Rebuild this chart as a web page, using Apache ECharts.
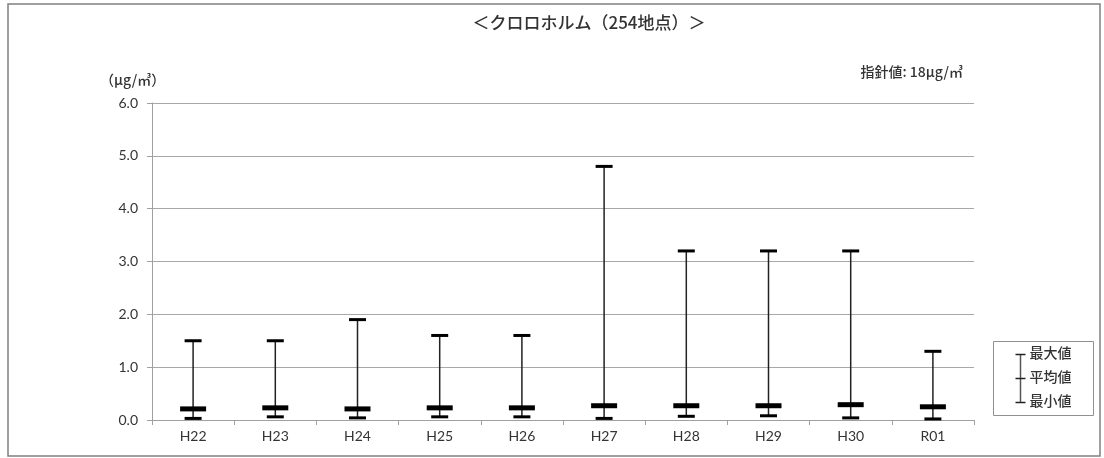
<!DOCTYPE html>
<html>
<head>
<meta charset="utf-8">
<script src="https://cdn.jsdelivr.net/npm/echarts@6/dist/echarts.min.js"></script>
<style>
  html, body { margin: 0; padding: 0; background: #fff; }
  #chart { width: 1104px; height: 458px; }
</style>
</head>
<body>
<div id="chart"></div>
<script>
// 年度
var categories = ['H22', 'H23', 'H24', 'H25', 'H26', 'H27', 'H28', 'H29', 'H30', 'R01'];
// 最大値 / 平均値 / 最小値 (μg/㎥)
var maxVals  = [1.5, 1.5, 1.9, 1.6, 1.6, 4.8, 3.2, 3.2, 3.2, 1.3];
var meanVals = [0.21, 0.23, 0.21, 0.23, 0.23, 0.27, 0.27, 0.27, 0.29, 0.25];
var minVals  = [0.03, 0.06, 0.04, 0.06, 0.06, 0.03, 0.07, 0.08, 0.04, 0.02];
var yTicks = [0, 1, 2, 3, 4, 5, 6];

var jp = '"Noto Sans CJK JP", sans-serif';
var num = 'Lato, "Noto Sans CJK JP", sans-serif';
var txt = '#333';

var chart = echarts.init(document.getElementById('chart'));

var data = categories.map(function (c, i) {
  return [i, minVals[i], meanVals[i], maxVals[i]];
});

function renderItem(params, api) {
  var i = api.value(0);
  var pMax = api.coord([i, api.value(3)]);
  var pMean = api.coord([i, api.value(2)]);
  var pMin = api.coord([i, api.value(1)]);
  var x = pMax[0];
  var col = '#000';
  return {
    type: 'group',
    children: [
      { type: 'line', shape: { x1: x, y1: pMax[1], x2: x, y2: pMin[1] },
        style: { stroke: '#222', lineWidth: 1.5 } },
      { type: 'rect', shape: { x: x - 8.5, y: pMax[1] - 1.5, width: 17, height: 3 },
        style: { fill: col } },
      { type: 'rect', shape: { x: x - 8.5, y: pMin[1] - 1.5, width: 17, height: 3 },
        style: { fill: col } },
      { type: 'rect', shape: { x: x - 13, y: pMean[1] - 2.5, width: 26, height: 5 },
        style: { fill: col } }
    ]
  };
}

chart.setOption({
  backgroundColor: '#fff',
  animation: false,
  title: {
    text: '＜クロロホルム（254地点）＞',
    left: 584, top: 9, textAlign: 'center',
    textStyle: { fontFamily: jp, fontSize: 17, fontWeight: 500, color: txt }
  },
  grid: { left: 152, right: 130, top: 103, bottom: 38 },
  xAxis: {
    type: 'category',
    data: categories,
    boundaryGap: true,
    axisLine: { lineStyle: { color: '#a0a0a0', width: 1 } },
    axisTick: { show: true, length: 5, inside: false, lineStyle: { color: '#a0a0a0' } },
    axisLabel: { fontFamily: num, fontSize: 14, color: txt, margin: 9 }
  },
  yAxis: {
    type: 'value',
    min: yTicks[0], max: yTicks[yTicks.length - 1], interval: 1,
    axisLine: { show: true, lineStyle: { color: '#a0a0a0', width: 1 } },
    axisTick: { show: true, length: 5, lineStyle: { color: '#a0a0a0' } },
    splitLine: { lineStyle: { color: '#a8a8a8', width: 1 } },
    axisLabel: {
      fontFamily: num, fontSize: 14, color: txt, margin: 14,
      formatter: function (v) { return v.toFixed(1); }
    }
  },
  series: [{
    type: 'custom',
    renderItem: renderItem,
    data: data,
    encode: { x: 0, y: [1, 2, 3] },
    z: 5
  }],
  graphic: [
    // 外枠
    { type: 'rect', shape: { x: 8, y: 4, width: 1092, height: 452 },
      style: { fill: null, stroke: '#808080', lineWidth: 1.5 }, silent: true, z: -1 },
    { type: 'text', left: 100, top: 73,
      style: { text: '（μg/㎥）', font: '500 14px ' + jp, fill: txt } },
    { type: 'text', right: 141, top: 65,
      style: { text: '指針値: 18μg/㎥', font: '500 14px ' + jp, fill: txt } },
    // 凡例
    { type: 'group', left: 993, top: 341, children: [
      { type: 'rect', shape: { x: 0, y: 0, width: 100, height: 74 },
        style: { fill: '#fff', stroke: '#909090', lineWidth: 1 } },
      { type: 'line', shape: { x1: 27, y1: 13, x2: 27, y2: 61 }, style: { stroke: '#555', lineWidth: 1.5 } },
      { type: 'line', shape: { x1: 22, y1: 13, x2: 32, y2: 13 }, style: { stroke: '#222', lineWidth: 1.5 } },
      { type: 'line', shape: { x1: 22, y1: 37, x2: 32, y2: 37 }, style: { stroke: '#222', lineWidth: 1.5 } },
      { type: 'line', shape: { x1: 22, y1: 61, x2: 32, y2: 61 }, style: { stroke: '#222', lineWidth: 1.5 } },
      { type: 'text', x: 36, y: 4, style: { text: '最大値', font: '500 14px ' + jp, fill: txt } },
      { type: 'text', x: 36, y: 28, style: { text: '平均値', font: '500 14px ' + jp, fill: txt } },
      { type: 'text', x: 36, y: 52, style: { text: '最小値', font: '500 14px ' + jp, fill: txt } }
    ]}
  ]
});
</script>
</body>
</html>
